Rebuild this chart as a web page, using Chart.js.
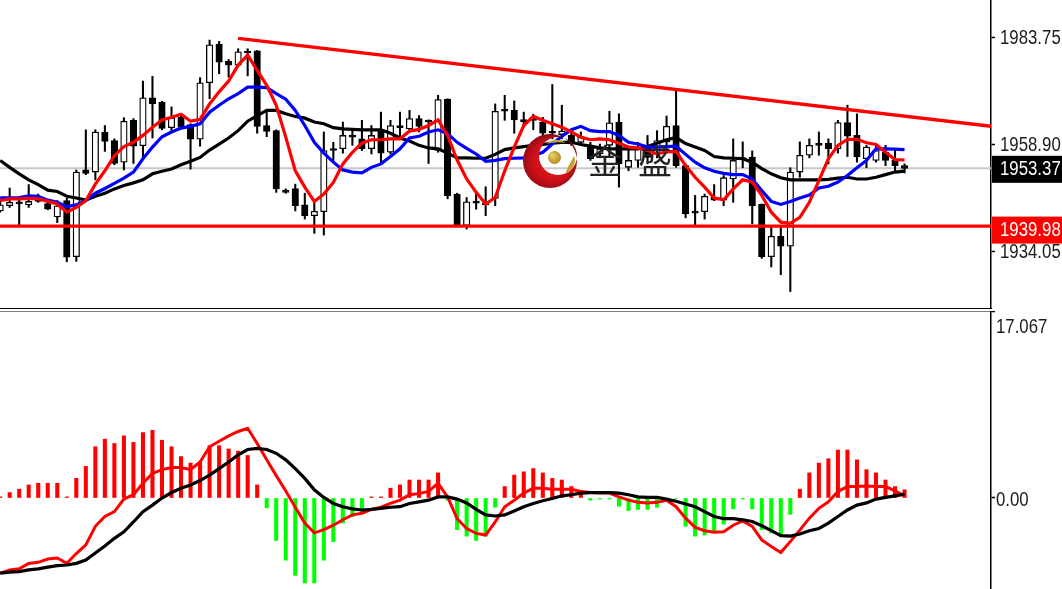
<!DOCTYPE html>
<html>
<head>
<meta charset="utf-8">
<title>XAUUSD</title>
<script src="https://cdn.jsdelivr.net/npm/chart.js@4"></script>
<style>
    html, body { margin: 0; padding: 0; background: #fff; overflow: hidden; }
    canvas { position: absolute; left: 0; }
    #priceChart { top: 0; }
    #macdChart { top: 311px; }
</style>
</head>
<body>
<canvas id="priceChart" width="1062" height="309"></canvas>
<canvas id="macdChart" width="1062" height="278"></canvas>
<script>
// candles
const opens = [1943.5,1944.7,1945.6,1944.9,1946.3,1945.2,1942.1,1945.9,1932.9,1953,
    1952.5,1961.8,1959.8,1954.8,1964.5,1958.6,1969.7,1968.7,1962.8,1965.2,
    1963.5,1960.1,1973.2,1982.1,1978.2,1977.3,1980.4,1980.6,1963.3,1962.1,
    1948.3,1948.7,1944.9,1942.4,1943.3,1957.9,1957.9,1961,1960.2,1957.9,
    1962.1,1957.1,1963.3,1962.5,1964.9,1964.3,1957.5,1969.4,1947.4,1940.1,
    1945.6,1945.2,1946.4,1967,1966.8,1964.6,1965.2,1964.1,1961.9,1961.2,
    1961,1959.4,1958.7,1956.7,1958.7,1964.1,1953.6,1955.2,1958.7,1956.7,
    1959.5,1963.3,1954,1943.3,1943.3,1946.7,1946,1950.9,1955.8,1956,
    1945,1932.9,1937.6,1935.3,1952.5,1956.4,1959.1,1959.2,1957.9,1964,
    1961,1955.6,1955.2,1957.1,1955.2,1954];
const closes = [1944.9,1945.5,1945.1,1945.7,1945.7,1943.9,1944.7,1932.8,1952.5,1952.2,
    1961.8,1959.6,1954.5,1964.3,1958.5,1969.7,1968.3,1962.6,1965.1,1962.9,
    1960.1,1973.2,1982,1978,1977.3,1980.4,1980.1,1963.1,1961.9,1948.6,
    1947.8,1944.7,1942.4,1943.4,1957.5,1957.5,1961,1960.6,1957.9,1961,
    1956.9,1963.3,1962.8,1964.9,1963.1,1964.1,1969.3,1947,1940.3,1945.6,
    1945.3,1944.9,1966.6,1966.6,1964.6,1964.2,1964.5,1961.5,1961.5,1962,
    1959,1960.6,1955.6,1957.9,1963.9,1954.4,1955.2,1957.9,1955.9,1959.8,
    1963.1,1954,1942.8,1943,1946.9,1946,1951.2,1955.2,1955.4,1944.7,
    1932.9,1937.6,1935.3,1952.5,1956.4,1958.7,1958.7,1957.9,1964,1960.8,
    1956,1958.3,1957.5,1955.2,1954,1953.37];
const highs = [1945.9,1948.8,1946.3,1949.6,1947.4,1945.9,1945.9,1946.4,1953,1962.3,
    1962.3,1963.3,1960.2,1965.1,1964.9,1973.6,1974.7,1968.9,1967.6,1965.6,
    1963.7,1974.4,1983.1,1982.8,1978.6,1981.1,1981.1,1980.7,1966.4,1962.3,
    1948.6,1949.7,1947.6,1945.9,1961.8,1959.4,1964.1,1962.5,1964.5,1963.3,
    1966.4,1964.5,1966.4,1966.8,1965.6,1964.6,1970.3,1969.5,1947.6,1946.6,
    1947.6,1949.1,1968.3,1970.3,1969,1966.4,1965.9,1965.2,1972.8,1968,
    1962.1,1961.8,1959.4,1959,1966.6,1966,1957.9,1959.4,1961,1962.1,
    1965.5,1971.5,1954.4,1947.1,1947.4,1949.6,1951.7,1960.2,1959.5,1957.4,
    1945.1,1939.9,1940.1,1953.5,1959.5,1960.2,1961.8,1960.2,1964.5,1968,
    1966,1958.7,1958.7,1958.7,1957.9,1954.4];
const lows = [1943.2,1944.3,1940.3,1944.3,1945.5,1943.8,1940.8,1931.7,1931.8,1951.9,
    1950.7,1957.3,1954.2,1953,1954.5,1955.6,1960.4,1962.3,1961.8,1962.5,
    1953.2,1958.5,1969.5,1975.3,1974.5,1976.9,1974.8,1961.5,1960.7,1947.8,
    1947.6,1943.5,1941.6,1938.3,1937.9,1954.8,1956.9,1958.7,1957.5,1956.7,
    1954.8,1956.7,1960.2,1961.8,1961.8,1954.5,1957.1,1946.3,1940.1,1939.3,
    1943.9,1942.4,1944.7,1964.5,1961.5,1963.3,1962.3,1961,1960.2,1960.2,
    1958.7,1959,1955.2,1955.8,1956,1949,1952.8,1953.6,1954.4,1955.8,
    1957,1953.6,1941.9,1940.1,1941.6,1945.9,1944.7,1945.5,1953.5,1940.5,
    1932.5,1930.5,1928.7,1924.8,1951.3,1955.8,1956.4,1954.4,1956.9,1956.1,
    1954.8,1953.5,1954.8,1954,1952.5,1952.3];

// moving averages
const maSlow = [1955.2,1953.6,1952.1,1950.7,1949.6,1948.3,1948,1946.9,1946.5,1946,
    1946.9,1947.6,1948.6,1949.4,1950,1950.7,1952.1,1952.7,1953.2,1954.2,
    1955,1955.9,1957.6,1959,1960.4,1962.1,1964.3,1965.6,1966.8,1966.8,
    1966,1965.4,1965,1964.1,1963.7,1962.8,1962.5,1962.4,1962.3,1962.3,
    1962.3,1961.5,1960.4,1959.7,1958.7,1958.1,1957.9,1956.9,1955.8,1955.8,
    1955.7,1955.7,1956.6,1957.7,1958.1,1958.4,1958.7,1958.9,1959.2,1959.4,
    1959.4,1958.9,1958.5,1958.1,1957.9,1957.9,1957.9,1957.9,1958.4,1959.2,
    1960,1960.5,1959.1,1958.3,1957.5,1956.1,1955.8,1955.7,1955.6,1954.8,
    1953.3,1952.1,1951.2,1950.7,1950.7,1950.7,1950.7,1950.8,1951.1,1951.3,
    1950.9,1950.9,1951.3,1951.9,1952.5,1952.7];
const maMid = [1946.5,1946.5,1946.6,1947,1946.9,1946,1945.5,1944.5,1944.9,1945.9,
    1947.6,1948.7,1949.9,1951.1,1952.5,1955.6,1958.3,1960.7,1961.8,1962.7,
    1963.1,1963.7,1966.4,1968,1969.5,1970.7,1972.2,1972.2,1972.1,1970.7,
    1969.4,1966.8,1963.3,1959.4,1956.9,1954.8,1953,1952.5,1952.3,1953.6,
    1954.4,1956.1,1957.9,1960.4,1960.8,1961.8,1962.3,1961.4,1959.4,1958,
    1956.7,1955,1955.2,1955.6,1955.7,1955.8,1956.3,1957.1,1959,1960.8,
    1962.3,1963.1,1962.1,1961.9,1961.9,1961,1959.4,1959,1958.3,1958.3,
    1958.4,1958.5,1956.6,1954.8,1953.5,1952.7,1952.2,1951.9,1951.9,1950.9,
    1948.2,1945.7,1945,1945.7,1946.5,1947.2,1948.8,1949.2,1950.2,1951.7,
    1953.5,1955.2,1957.9,1957.9,1957.8,1957.7];
const maFast = [1945.9,1946.3,1946.3,1946.4,1946.3,1945.7,1945.1,1943.2,1944.3,1945.9,
    1949.7,1952.8,1956.3,1958.4,1959.4,1961,1962.9,1964.6,1965.2,1965.9,
    1964.3,1964.7,1968.3,1971.1,1973.6,1977.3,1979.6,1976.1,1972.6,1968,
    1960.6,1952.8,1949,1945.7,1947.4,1950.1,1954.4,1957.1,1959.2,1960,
    1960,1960.2,1960.2,1962,1962.4,1963.3,1964.6,1961,1955.3,1950.9,
    1947.8,1945.1,1946.6,1952.8,1958.3,1963.3,1965.4,1964.5,1963.7,1962.9,
    1961.8,1960.6,1960,1960.2,1960,1959.2,1958.3,1958.1,1957.5,1956.7,
    1957.2,1957.3,1954,1951.3,1949,1946.5,1946.1,1948.6,1950.7,1950.2,
    1947.1,1943.2,1940.9,1940.6,1942,1945.5,1950.5,1955.6,1958.7,1960.1,
    1960.1,1959.3,1958.9,1957.1,1955.4,1955.3];

// drawn objects on the price panel
const bidPrice = 1953.37;
const supportPrice = 1939.98;
const trendBars = [25, 104.1];
const trendPrices = [1983.5, 1963.1];

// MACD panel
const macdHist = [0.1,0.5,0.8,1.2,1.35,1.35,1.35,0.1,1.8,2.9,
    4.7,5.4,5,5.7,5.1,6,6.2,5.3,4.7,3.8,
    3.2,3.3,4.8,4.8,4.5,4.3,3.9,1.2,-0.9,-3.9,
    -5.7,-7.1,-7.8,-7.8,-5.7,-4,-2.3,-1.7,-1.3,0.1,
    0.1,0.9,1.2,1.65,1.65,1.65,2.3,-0.2,-2.9,-3.5,
    -3.9,-3.5,-0.85,1.05,2.1,2.4,2.7,2.3,1.8,1.65,
    1.05,0.7,-0.2,-0.1,-0.1,-0.75,-1.15,-1.05,-1.05,-0.85,
    -0.2,-0.05,-2.6,-3.5,-3.4,-3.1,-2.4,-1,-0.1,-1,
    -2.9,-3.2,-3.4,-1.5,0.8,2.3,3.2,3.6,4.4,4.4,
    3.5,2.6,2.3,1.65,1.05,0.75];
const macdFast = [-6.9,-6.6,-6.5,-6,-5.9,-5.6,-5.5,-6,-5.1,-4.3,
    -2.6,-1.7,-1.25,-0.1,0.3,1.35,2.25,2.6,2.8,2.8,
    2.6,3.3,4.7,5.2,5.7,6.1,6.4,5,3.5,2.05,
    0.65,-0.85,-2.3,-3.2,-2.9,-2.5,-2,-1.55,-1.4,-1.05,
    -0.85,-0.5,-0.2,0.3,0.4,0.6,1.35,0.1,-1.9,-2.8,
    -3.25,-3.4,-2.2,-0.8,-0.2,0.45,0.9,0.9,0.8,0.8,
    0.8,0.6,0.5,0.45,0.45,0.1,-0.2,-0.4,-0.45,-0.4,
    -0.2,-0.8,-1.85,-2.7,-3,-3.15,-3.1,-2.5,-2.1,-2.6,
    -3.85,-4.45,-5,-4,-2.95,-1.85,-0.95,-0.35,0.6,1.05,
    1.05,1.1,1.05,1.05,0.65,0.2];
const macdSlow = [-6.9,-6.8,-6.75,-6.6,-6.5,-6.35,-6.2,-6.15,-6,-5.7,
    -5.05,-4.4,-3.7,-3.1,-2.2,-1.25,-0.65,0,0.5,0.9,
    1.2,1.6,2.1,2.7,3.3,3.95,4.45,4.55,4.45,4.1,
    3.5,2.7,1.8,0.75,0.05,-0.5,-0.8,-1,-1.1,-1.05,
    -0.95,-0.85,-0.8,-0.5,-0.35,-0.2,0.1,0.1,-0.1,-0.45,
    -1.05,-1.55,-1.65,-1.55,-1.2,-0.8,-0.5,-0.25,-0.05,0.2,
    0.3,0.45,0.5,0.5,0.5,0.45,0.3,0.1,0.05,0.05,
    -0.1,-0.3,-0.55,-0.8,-1.25,-1.7,-1.9,-1.9,-2,-2.15,
    -2.55,-3,-3.45,-3.5,-3.3,-3,-2.8,-2.3,-1.7,-1.1,
    -0.65,-0.45,-0.1,0.05,0.2,0.35];

const priceTicks = [1983.75, 1958.90, 1934.05];
const priceTickLabels = ['1983.75', '1958.90', '1934.05'];
const macdTicks = [17.067, 0];
const macdTickLabels = ['17.067', '0.00'];

const lastBar = 104.08;
const labelFont = '20px "Liberation Sans", sans-serif';

const points = (xs, ys) => ys.map((y, i) => ({ x: xs ? xs[i] : i, y: y }));

function lineSet(values, color, width, order, xs) {
    return {
        type: 'line',
        data: points(xs, values),
        borderColor: color,
        borderWidth: width,
        pointRadius: 0,
        tension: 0,
        order: order
    };
}

function xAxis(position) {
    return {
        type: 'linear',
        position: position,
        offset: false,
        min: -0.016,
        max: lastBar,
        ticks: { display: false },
        grid: { display: false, drawTicks: false, offset: false },
        border: { display: true, color: '#000', width: 1.5 }
    };
}

function yAxis(min, max, ticks) {
    return {
        position: 'right',
        min: min,
        max: max,
        afterBuildTicks: axis => { axis.ticks = ticks.map(v => ({ value: v })); },
        afterFit: axis => {
            axis.width = 71;
            axis.paddingTop = 0;
            axis.paddingBottom = 0;
        },
        ticks: { display: false },
        grid: { drawOnChartArea: false, tickLength: 4, tickColor: '#000', tickWidth: 1.5 },
        border: { display: true, color: '#000', width: 1.5 }
    };
}

// the terminal font is tall and narrow, none installed is, so squeeze it
function axisText(ctx, text, x, y, color) {
    ctx.save();
    ctx.translate(x, y);
    ctx.scale(0.84, 1);
    ctx.fillStyle = color;
    ctx.font = labelFont;
    ctx.textAlign = 'left';
    ctx.textBaseline = 'middle';
    ctx.fillText(text, 0, 0);
    ctx.restore();
}

function priceTag(ctx, text, y, fill, h) {
    ctx.fillStyle = fill;
    ctx.fillRect(992, y - h / 2, 70, h);
    axisText(ctx, text, 1000, y, '#fff');
}

function drawLogo(ctx) {
    const red = ctx.createRadialGradient(560, 158, 8, 548, 163, 30);
    red.addColorStop(0, '#f01a20');
    red.addColorStop(0.6, '#c80f18');
    red.addColorStop(1, '#7c0a12');
    ctx.fillStyle = red;
    ctx.beginPath();
    ctx.arc(550, 161, 27, 0, Math.PI * 2);
    ctx.arc(558, 156, 19, 0, Math.PI * 2);
    ctx.fill('evenodd');

    const gold = ctx.createRadialGradient(552, 155, 1, 554, 157, 7);
    gold.addColorStop(0, '#e8d060');
    gold.addColorStop(1, '#b08e1c');
    ctx.fillStyle = gold;
    ctx.beginPath();
    ctx.arc(554.5, 157.5, 6.5, 0, Math.PI * 2);
    ctx.fill();

    ctx.fillStyle = '#c0a030';
    ctx.beginPath();
    ctx.moveTo(546, 144);
    ctx.quadraticCurveTo(556, 136, 566, 143);
    ctx.quadraticCurveTo(556, 141, 546, 144);
    ctx.fill();
    ctx.beginPath();
    ctx.moveTo(574, 156);
    ctx.quadraticCurveTo(578, 166, 565, 174);
    ctx.quadraticCurveTo(569, 164, 574, 156);
    ctx.fill();
}

const pricePanel = {
    id: 'pricePanel',
    afterDatasetsDraw(chart) {
        const ctx = chart.ctx;
        ctx.save();
        drawLogo(ctx);
        ctx.fillStyle = '#222';
        ctx.font = '34px "Noto Sans CJK SC"';
        ctx.textAlign = 'center';
        ctx.textBaseline = 'middle';
        ctx.fillText('金', 605, 161);
        ctx.fillText('盛', 655, 161);
        ctx.restore();
    },
    afterDraw(chart) {
        const ctx = chart.ctx;
        const y = chart.scales.y;
        ctx.save();
        priceTicks.forEach((v, i) => {
            axisText(ctx, priceTickLabels[i], 1000, y.getPixelForValue(v) + 1, '#1c1c1c');
        });
        priceTag(ctx, bidPrice.toFixed(2), y.getPixelForValue(bidPrice) + 1, '#000', 27);
        priceTag(ctx, supportPrice.toFixed(2), y.getPixelForValue(supportPrice) + 4, '#ff0000', 27);
        ctx.restore();
    }
};

const macdPanel = {
    id: 'macdPanel',
    afterDraw(chart) {
        const ctx = chart.ctx;
        const y = chart.scales.y;
        axisText(ctx, macdTickLabels[0], 996, y.getPixelForValue(macdTicks[0]) + 16, '#1c1c1c');
        axisText(ctx, macdTickLabels[1], 996, y.getPixelForValue(macdTicks[1]) + 2, '#1c1c1c');
    }
};

new Chart(document.getElementById('priceChart'), {
    type: 'bar',
    data: {
        datasets: [
            lineSet([bidPrice, bidPrice], '#c8c8c8', 2, 9, [-0.016, lastBar]),
            {
                data: points(null, lows.map((l, i) => [l, highs[i]])),
                backgroundColor: '#000',
                barThickness: 1.4,
                order: 8
            },
            {
                data: points(null, opens.map((o, i) => [o, closes[i]])),
                backgroundColor: opens.map((o, i) => closes[i] >= o ? '#fff' : '#000'),
                borderColor: '#000',
                borderWidth: 1.3,
                borderSkipped: false,
                barThickness: 6.5,
                minBarLength: 2,
                order: 7
            },
            lineSet(maSlow, '#000', 3.2, 6),
            lineSet(maMid, '#0000ff', 3.2, 5),
            lineSet(maFast, '#ff0000', 3.2, 4),
            lineSet(trendPrices, '#ff0000', 3.4, 2, trendBars),
            lineSet([supportPrice, supportPrice], '#ff0000', 3.4, 3, [-0.016, lastBar])
        ]
    },
    options: {
        responsive: false,
        animation: false,
        layout: { padding: 0 },
        datasets: { bar: { grouped: false } },
        plugins: { legend: { display: false }, tooltip: { enabled: false } },
        scales: {
            x: xAxis('bottom'),
            y: yAxis(1920.76, 1992.39, priceTicks)
        }
    },
    plugins: [pricePanel]
});

new Chart(document.getElementById('macdChart'), {
    type: 'bar',
    data: {
        datasets: [
            {
                data: points(null, macdHist),
                backgroundColor: macdHist.map(v => v >= 0 ? '#ff0000' : '#00ff00'),
                barThickness: 3.4,
                order: 3
            },
            lineSet(macdFast, '#ff0000', 3, 2),
            lineSet(macdSlow, '#000', 3.2, 1)
        ]
    },
    options: {
        responsive: false,
        animation: false,
        layout: { padding: 0 },
        datasets: { bar: { grouped: false } },
        plugins: { legend: { display: false }, tooltip: { enabled: false } },
        scales: {
            x: xAxis('top'),
            y: yAxis(-8.35, 17.156, macdTicks)
        }
    },
    plugins: [macdPanel]
});
</script>
</body>
</html>
